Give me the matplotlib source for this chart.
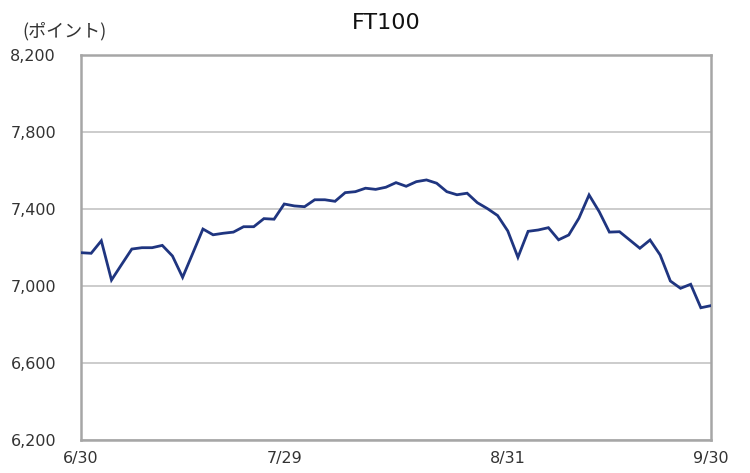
import numpy as np
import matplotlib.pyplot as plt

plt.rcParams['font.family'] = ['DejaVu Sans', 'Noto Sans CJK JP']

# FT100 daily close, 6/30 - 9/30 (points)
values = [7173, 7170, 7235, 7031, 7112, 7192, 7199, 7199, 7211, 7156,
          7045, 7170, 7296, 7266, 7274, 7280, 7308, 7308, 7350, 7347,
          7426, 7416, 7412, 7448, 7448, 7440, 7485, 7490, 7508, 7502,
          7513, 7537, 7518, 7542, 7551, 7534, 7490, 7474, 7482, 7433,
          7402, 7366, 7286, 7149, 7284, 7291, 7303, 7240, 7265, 7352,
          7473, 7386, 7280, 7282, 7239, 7196, 7239, 7161, 7026, 6988,
          7009, 6887, 6898]
tick_pos = [0, 20, 42, 62]
tick_labels = ['6/30', '7/29', '8/31', '9/30']
y_ticks = [6200, 6600, 7000, 7400, 7800, 8200]

fig = plt.figure(figsize=(7.5, 4.73), dpi=100)
ax = fig.add_axes([81/750, 33/473, 630/750, 385/473])

x = np.arange(len(values))
ax.plot(x, values, color='#1f3580', linewidth=2.0, solid_joinstyle='miter', zorder=3)

ax.set_xlim(0, len(values) - 1)
ax.set_ylim(6200, 8200)
ax.set_yticks(y_ticks)
ax.set_yticklabels([f'{v:,}' for v in y_ticks])
ax.set_xticks(tick_pos)
ax.set_xticklabels(tick_labels)
ax.tick_params(axis='y', length=0, pad=18, labelsize=11.5, labelcolor='#333333')
ax.tick_params(axis='x', length=0, pad=8, labelsize=11.5, labelcolor='#333333')
ax.grid(axis='y', color='#c8c8c8', linewidth=1.3)
for s in ax.spines.values():
    s.set_color('#a6a6a6')
    s.set_linewidth(1.8)

fig.text(386/750, 1 - 23/473, 'FT100', ha='center', va='center', fontsize=16, color='#111111')
fig.text(65/750, 1 - 31/473, '(ポイント)', ha='center', va='center', fontsize=13,
         color='#333333', family=['Noto Sans CJK JP', 'DejaVu Sans'])

fig.savefig('out.png', dpi=100)
